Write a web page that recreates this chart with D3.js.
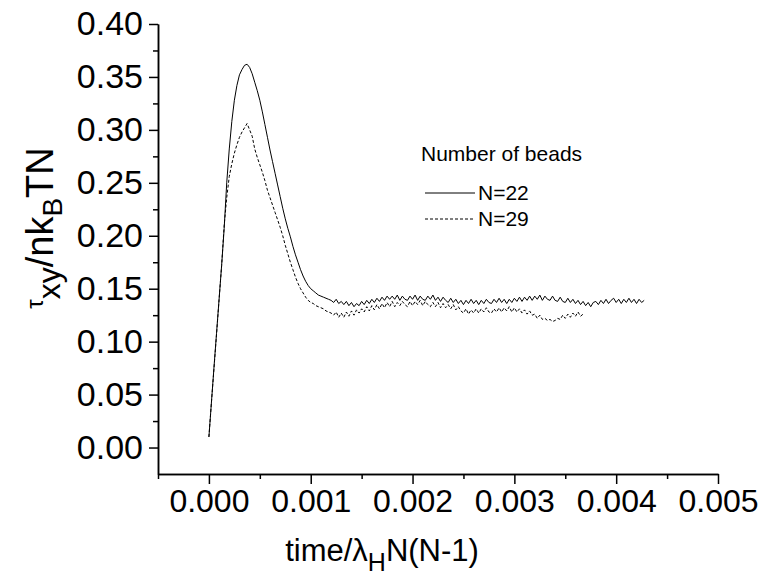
<!DOCTYPE html>
<html>
<head>
<meta charset="utf-8">
<script src="https://cdn.jsdelivr.net/npm/d3@7"></script>
<style>
  body { margin: 0; background: #fff; }
  svg { display: block; }
  text { font-family: "Liberation Sans", Arial, sans-serif; fill: #000; }
</style>
</head>
<body>
<svg id="chart" width="759" height="575"></svg>
<script>
// sampling interval of the simulation output (time / lambda_H N(N-1))
const timeStep = 0.000025;

// tau_xy / n k_B T N, N = 22 beads
const stressN22 = [
  0.010, 0.043, 0.076, 0.108, 0.140, 0.172, 0.207, 0.250, 0.282, 0.308, 0.328, 0.342, 0.352, 0.357, 0.361, 0.362,
  0.359, 0.353, 0.345, 0.337, 0.328, 0.317, 0.305, 0.293, 0.281, 0.270, 0.259, 0.248, 0.237, 0.226, 0.216, 0.207,
  0.199, 0.190, 0.182, 0.175, 0.168, 0.162, 0.157, 0.153, 0.150, 0.148, 0.146, 0.144, 0.143, 0.142, 0.141, 0.140,
  0.139, 0.137, 0.140, 0.136, 0.138, 0.135, 0.138, 0.134, 0.137, 0.133, 0.136, 0.134, 0.138, 0.135, 0.139, 0.136,
  0.140, 0.137, 0.141, 0.138, 0.142, 0.139, 0.143, 0.140, 0.143, 0.140, 0.144, 0.139, 0.143, 0.140, 0.139, 0.143,
  0.140, 0.144, 0.139, 0.143, 0.140, 0.139, 0.143, 0.140, 0.144, 0.139, 0.142, 0.138, 0.142, 0.139, 0.137, 0.141,
  0.137, 0.140, 0.136, 0.139, 0.135, 0.139, 0.136, 0.140, 0.136, 0.139, 0.135, 0.139, 0.136, 0.140, 0.137, 0.136,
  0.140, 0.137, 0.141, 0.137, 0.140, 0.136, 0.140, 0.137, 0.141, 0.138, 0.142, 0.138, 0.142, 0.139, 0.143, 0.139,
  0.143, 0.140, 0.144, 0.139, 0.143, 0.140, 0.139, 0.143, 0.139, 0.138, 0.142, 0.138, 0.137, 0.141, 0.137, 0.140,
  0.136, 0.139, 0.135, 0.138, 0.134, 0.137, 0.133, 0.137, 0.138, 0.135, 0.139, 0.136, 0.140, 0.136, 0.139, 0.141,
  0.137, 0.140, 0.136, 0.140, 0.137, 0.141, 0.137, 0.140, 0.136, 0.140, 0.137, 0.139
];

// tau_xy / n k_B T N, N = 29 beads
const stressN29 = [
  0.010, 0.043, 0.075, 0.107, 0.140, 0.172, 0.210, 0.236, 0.256, 0.268, 0.278, 0.286, 0.293, 0.298, 0.302, 0.306,
  0.300, 0.294, 0.282, 0.274, 0.267, 0.260, 0.252, 0.243, 0.236, 0.229, 0.222, 0.215, 0.208, 0.200, 0.191, 0.183,
  0.175, 0.168, 0.161, 0.155, 0.150, 0.146, 0.142, 0.139, 0.137, 0.136, 0.134, 0.133, 0.132, 0.131, 0.129, 0.128,
  0.127, 0.125, 0.128, 0.123, 0.127, 0.123, 0.128, 0.124, 0.129, 0.125, 0.130, 0.127, 0.131, 0.128, 0.133, 0.129,
  0.134, 0.130, 0.135, 0.131, 0.136, 0.132, 0.137, 0.133, 0.138, 0.133, 0.137, 0.134, 0.138, 0.135, 0.133, 0.138,
  0.134, 0.138, 0.135, 0.139, 0.134, 0.138, 0.135, 0.133, 0.137, 0.133, 0.137, 0.132, 0.136, 0.132, 0.135, 0.131,
  0.135, 0.130, 0.133, 0.129, 0.127, 0.131, 0.126, 0.130, 0.127, 0.131, 0.127, 0.131, 0.128, 0.132, 0.128, 0.127,
  0.131, 0.128, 0.132, 0.128, 0.132, 0.129, 0.133, 0.128, 0.132, 0.128, 0.131, 0.127, 0.130, 0.126, 0.129, 0.125,
  0.126, 0.122, 0.125, 0.121, 0.122, 0.120, 0.121, 0.119, 0.120, 0.122, 0.121, 0.125, 0.122, 0.126, 0.123, 0.127,
  0.124, 0.128, 0.124, 0.126
];

const xTicks = [0, 0.001, 0.002, 0.003, 0.004, 0.005];
const xMinorTicks = [-0.0005, 0.0005, 0.0015, 0.0025, 0.0035, 0.0045];
const yTicks = [0, 0.05, 0.10, 0.15, 0.20, 0.25, 0.30, 0.35, 0.40];
const yMinorTicks = [0.025, 0.075, 0.125, 0.175, 0.225, 0.275, 0.325, 0.375];

const legendTitle = 'Number of beads';
const seriesNames = ['N=22', 'N=29'];

const svg = d3.select('#chart');

const x = d3.scaleLinear().domain([-0.0005, 0.005]).range([158, 718]);
const y = d3.scaleLinear().domain([-0.025, 0.40]).range([474, 24]);

function drawAxis(axis, transform) {
  let g = svg.append('g').attr('transform', transform).call(axis);
  g.select('.domain').attr('stroke', '#000').attr('stroke-width', 1.5);
  g.selectAll('.tick line').attr('stroke', '#000').attr('stroke-width', 1.5);
  return g;
}

// minor ticks first, majors on top
drawAxis(d3.axisBottom(x).tickValues(xMinorTicks).tickSize(5).tickSizeOuter(0).tickFormat(''), 'translate(0,474)');
drawAxis(d3.axisLeft(y).tickValues(yMinorTicks).tickSize(5).tickSizeOuter(0).tickFormat(''), 'translate(158,0)');

let xAxisG = drawAxis(d3.axisBottom(x).tickValues(xTicks).tickSize(10).tickSizeOuter(0).tickFormat(d3.format('.3f')), 'translate(0,474)');
xAxisG.selectAll('.tick text')
  .attr('y', 15)
  .style('font-size', '32px')
  .style('font-family', '"Liberation Sans", Arial, sans-serif');

let yAxisG = drawAxis(d3.axisLeft(y).tickValues(yTicks).tickSize(9).tickSizeOuter(0).tickFormat(d3.format('.2f')), 'translate(158,0)');
yAxisG.selectAll('.tick text')
  .attr('x', -15)
  .style('font-size', '34px')
  .style('font-family', '"Liberation Sans", Arial, sans-serif');

// curves
const line = d3.line()
  .x((d, i) => x(i * timeStep))
  .y(d => y(d));

svg.append('path')
  .datum(stressN22)
  .attr('fill', 'none')
  .attr('stroke', '#000')
  .attr('stroke-width', 1)
  .attr('d', line);

svg.append('path')
  .datum(stressN29)
  .attr('fill', 'none')
  .attr('stroke', '#000')
  .attr('stroke-width', 1)
  .attr('stroke-dasharray', '3,2')
  .attr('d', line);

// legend
svg.append('text')
  .attr('x', 421)
  .attr('y', 161)
  .style('font-size', '21px')
  .text(legendTitle);

let legend = svg.selectAll('.legend-item')
  .data(seriesNames)
  .enter()
  .append('g')
  .attr('class', 'legend-item')
  .attr('transform', (d, i) => `translate(0,${193 + i * 26})`);

legend.append('line')
  .attr('x1', 425)
  .attr('x2', 475)
  .attr('stroke', '#000')
  .attr('stroke-width', 1)
  .attr('stroke-dasharray', (d, i) => i === 1 ? '3,2' : null);

legend.append('text')
  .attr('x', 478)
  .attr('y', 7)
  .style('font-size', '21px')
  .text(d => d);

// axis titles
let yTitle = svg.append('text')
  .attr('transform', 'translate(53,228) rotate(-90)')
  .attr('text-anchor', 'middle')
  .style('font-size', '38px');
yTitle.append('tspan').style('font-size', '24px').attr('dy', -10).text('τ');
yTitle.append('tspan').style('font-size', '32px').attr('dy', 17).text('xy');
yTitle.append('tspan').attr('dy', -7).text('/nk');
yTitle.append('tspan').style('font-size', '28px').attr('dy', 9).text('B');
yTitle.append('tspan').attr('dy', -9).text('TN');

let xTitle = svg.append('text')
  .attr('x', 382)
  .attr('y', 561)
  .attr('text-anchor', 'middle')
  .style('font-size', '31px');
xTitle.append('tspan').text('time/λ');
xTitle.append('tspan').style('font-size', '25px').attr('dy', 10).text('H');
xTitle.append('tspan').attr('dy', -10).text('N(N-1)');
</script>
</body>
</html>
